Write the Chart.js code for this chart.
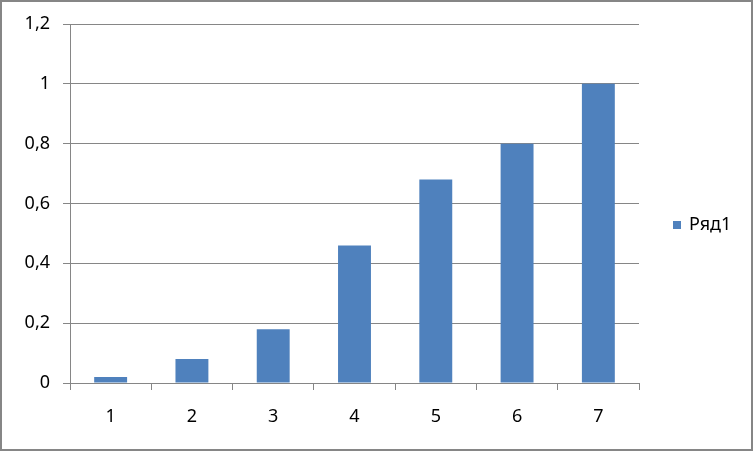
<!DOCTYPE html>
<html>
<head>
<meta charset="utf-8">
<script src="https://cdn.jsdelivr.net/npm/chart.js@4"></script>
<style>
    html, body { margin: 0; padding: 0; background: #fff; }
    #wrap { position: relative; width: 753px; height: 451px; }
    #frame {
        position: absolute; left: 0; top: 0; width: 753px; height: 451px;
        box-sizing: border-box; border: 2px solid #868686; pointer-events: none;
    }
</style>
</head>
<body>
<div id="wrap">
    <canvas id="chart" width="753" height="451"></canvas>
    <div id="frame"></div>
</div>
<script>
    // Data
    const categories = ['1', '2', '3', '4', '5', '6', '7'];
    const seriesName = 'Ряд1';
    const seriesValues = [0.02, 0.08, 0.18, 0.46, 0.68, 0.8, 1.0];
    const yTickLabels = ['0', '0,2', '0,4', '0,6', '0,8', '1', '1,2'];

    const BAR_COLOR = '#4F81BD';
    const LINE_COLOR = '#868686';
    const FONT = { family: '"Noto Sans", sans-serif', size: 18 };

    // Simple legend on the right, like the Excel original
    const sideLegend = {
        id: 'sideLegend',
        afterDraw(chart) {
            const ctx = chart.ctx;
            const ds = chart.data.datasets[0];
            ctx.save();
            ctx.fillStyle = ds.backgroundColor;
            ctx.fillRect(673, 221, 8, 8);
            ctx.fillStyle = '#000';
            ctx.font = FONT.size + 'px ' + FONT.family;
            ctx.textBaseline = 'middle';
            ctx.textAlign = 'left';
            ctx.fillText(ds.label, 689, 225);
            ctx.restore();
        }
    };

    new Chart(document.getElementById('chart'), {
        type: 'bar',
        data: {
            labels: categories,
            datasets: [{
                label: seriesName,
                data: seriesValues,
                backgroundColor: BAR_COLOR,
                borderWidth: 0,
                categoryPercentage: 1,
                barPercentage: 0.405
            }]
        },
        options: {
            responsive: false,
            animation: false,
            layout: { padding: { top: 24, right: 114, bottom: 0, left: 0 } },
            scales: {
                x: {
                    grid: {
                        offset: true,
                        drawOnChartArea: false,
                        drawTicks: true,
                        tickLength: 7,
                        color: LINE_COLOR
                    },
                    border: { color: LINE_COLOR },
                    ticks: { color: '#000', font: FONT, padding: 16, maxRotation: 0 },
                    afterFit: (s) => { s.height = 68; }
                },
                y: {
                    min: 0,
                    max: 1.2,
                    grid: { color: LINE_COLOR, tickLength: 7 },
                    border: { color: LINE_COLOR },
                    ticks: {
                        stepSize: 0.2,
                        color: '#000',
                        font: FONT,
                        padding: 13,
                        callback: (v, i) => yTickLabels[i]
                    },
                    afterFit: (s) => { s.width = 70; }
                }
            },
            plugins: {
                legend: { display: false },
                tooltip: { enabled: false }
            }
        },
        plugins: [sideLegend]
    });
</script>
</body>
</html>
